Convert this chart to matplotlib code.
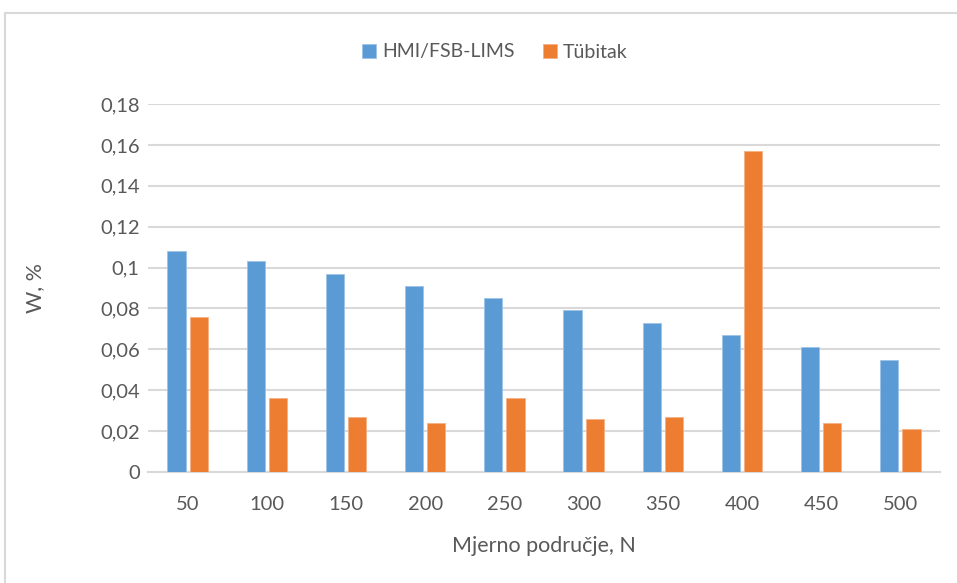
import numpy as np
import matplotlib.pyplot as plt
from matplotlib.patches import Rectangle

# Data
categories = ['50', '100', '150', '200', '250', '300', '350', '400', '450', '500']
hmi = [0.108, 0.103, 0.097, 0.091, 0.085, 0.079, 0.073, 0.067, 0.061, 0.055]
tubitak = [0.076, 0.036, 0.027, 0.024, 0.036, 0.026, 0.027, 0.157, 0.024, 0.021]
yticks = [0, 0.02, 0.04, 0.06, 0.08, 0.1, 0.12, 0.14, 0.16, 0.18]
ytick_labels = ['0', '0,02', '0,04', '0,06', '0,08', '0,1', '0,12', '0,14', '0,16', '0,18']

blue = '#5B9BD5'
orange = '#ED7D31'
grid_col = '#D9D9D9'
text_col = '#595959'

plt.rcParams['font.family'] = ['Lato', 'DejaVu Sans']

fig = plt.figure(figsize=(9.57, 5.83), dpi=100)
ax = fig.add_axes([148 / 957, 1 - 472 / 583, (940 - 148) / 957, (472 - 104) / 583])

# outer chart frame (runs off the right and bottom edges)
fig.patches.append(Rectangle((5 / 957, -0.05), 1.2, 1 - 13 / 583 + 0.05,
                             transform=fig.transFigure, fill=False,
                             edgecolor=grid_col, linewidth=1.5))

x = np.arange(len(categories))
w = 0.228
ax.bar(x - 0.14, hmi, w, color=blue, label='HMI/FSB-LIMS', zorder=3,
       edgecolor='#9DC3E6', linewidth=0.6)
ax.bar(x + 0.14, tubitak, w, color=orange, label='Tübitak', zorder=3,
       edgecolor='#F4B183', linewidth=0.6)

ax.set_xlim(-0.5, len(categories) - 0.5)
ax.set_ylim(0, 0.18)
ax.set_yticks(yticks)
ax.set_yticklabels(ytick_labels)
ax.set_xticks(x)
ax.set_xticklabels(categories)
ax.yaxis.grid(True, color=grid_col, linewidth=1.5, zorder=0)
ax.set_axisbelow(True)
for s in ['top', 'right', 'left']:
    ax.spines[s].set_visible(False)
ax.spines['bottom'].set_color(grid_col)
ax.spines['bottom'].set_linewidth(1.5)
ax.tick_params(length=0, labelsize=14.5, colors=text_col)
ax.tick_params(axis='y', pad=6)
ax.tick_params(axis='x', pad=17)

ax.set_xlabel('Mjerno područje, N', fontsize=15.5, color=text_col)
ax.set_ylabel('W, %', fontsize=15.5, color=text_col)
ax.xaxis.set_label_coords(0.5, (472 - 536) / 368)
ax.yaxis.set_label_coords(-(148 - 45) / 792, 0.5)

fig.legend(loc='center', bbox_to_anchor=(495 / 957, 1 - 52 / 583), ncol=2, frameon=False,
           fontsize=14, labelcolor=text_col, handlelength=0.7, handleheight=0.7,
           handletextpad=0.3, columnspacing=1.5)

fig.savefig('out.png', dpi=100)
